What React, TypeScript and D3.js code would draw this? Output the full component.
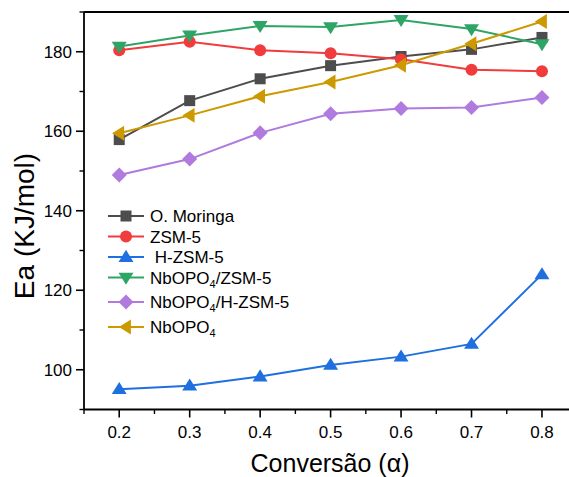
import React from "react";
import * as d3 from "d3";

const conversion = [0.2, 0.3, 0.4, 0.5, 0.6, 0.7, 0.8];
const moringa = [157.9, 167.7, 173.2, 176.5, 178.8, 180.6, 183.6];
const zsm5 = [180.4, 182.5, 180.4, 179.6, 178.1, 175.5, 175.1];
const hzsm5 = [95.1, 96.0, 98.3, 101.2, 103.3, 106.5, 124.0];
const nbZsm5 = [181.3, 184.1, 186.5, 186.2, 188.0, 185.7, 181.9];
const nbHzsm5 = [149.0, 153.0, 159.6, 164.4, 165.7, 166.0, 168.5];
const nbopo4 = [159.5, 164.0, 168.8, 172.4, 176.6, 182.0, 187.6];

const xTicks = [0.2, 0.3, 0.4, 0.5, 0.6, 0.7, 0.8];
const xMinorTicks = [0.15, 0.25, 0.35, 0.45, 0.55, 0.65, 0.75, 0.85];
const yTicks = [100, 120, 140, 160, 180];
const yMinorTicks = [90, 110, 130, 150, 170, 190];

type Series = { name: string; sub?: [string, string]; values: number[]; color: string; marker: string };
const series: Series[] = [
  { name: "O. Moringa", values: moringa, color: "#4d4d4d", marker: "square" },
  { name: "ZSM-5", values: zsm5, color: "#f03c3c", marker: "circle" },
  { name: " H-ZSM-5", values: hzsm5, color: "#1f6fe0", marker: "up" },
  { name: "NbOPO4/ZSM-5", sub: ["NbOPO", "/ZSM-5"], values: nbZsm5, color: "#2ea566", marker: "down" },
  { name: "NbOPO4/H-ZSM-5", sub: ["NbOPO", "/H-ZSM-5"], values: nbHzsm5, color: "#b07ade", marker: "diamond" },
  { name: "NbOPO4", sub: ["NbOPO", ""], values: nbopo4, color: "#cc9900", marker: "left" },
];

const legendY = [216, 236.5, 257, 277.5, 302, 327];

function Marker({ type, x, y, color }: { type: string; x: number; y: number; color: string }) {
  const r = 6.5;
  if (type === "square") return <rect x={x - 5.5} y={y - 5.5} width={11} height={11} fill={color} />;
  if (type === "circle") return <circle cx={x} cy={y} r={6} fill={color} />;
  let pts: [number, number][] = [];
  if (type === "up") pts = [[x, y - r * 1.1], [x + r * 1.15, y + r * 0.75], [x - r * 1.15, y + r * 0.75]];
  if (type === "down") pts = [[x, y + r * 1.1], [x + r * 1.15, y - r * 0.75], [x - r * 1.15, y - r * 0.75]];
  if (type === "left") pts = [[x - r * 1.1, y], [x + r * 0.75, y - r * 1.15], [x + r * 0.75, y + r * 1.15]];
  if (type === "diamond") pts = [[x, y - 7.5], [x + 7.5, y], [x, y + 7.5], [x - 7.5, y]];
  return <polygon points={pts.map((p) => p.join(",")).join(" ")} fill={color} />;
}

export default function App() {
  const W = 569, H = 477;
  const x = d3.scaleLinear().domain([0.15, 0.85]).range([84, 577.2]);
  const y = d3.scaleLinear().domain([90, 190]).range([409.5, 12]);
  const line = d3.line<number>().x((_, i) => x(conversion[i])).y((v) => y(v));
  const font = "Arial, 'Liberation Sans', sans-serif";
  const axisW = 1.8;

  return (
    <svg width={W} height={H} style={{ position: "absolute", left: 0, top: 0, background: "#fff" }} fontFamily={font}>
      <rect width={W} height={H} fill="#fff" />
      {series.map((s) => (
        <g key={s.name}>
          <path d={line(s.values) || ""} fill="none" stroke={s.color} strokeWidth={2} />
          {s.values.map((v, i) => (
            <Marker key={i} type={s.marker} x={x(conversion[i])} y={y(v)} color={s.color} />
          ))}
        </g>
      ))}
      {/* axes frame */}
      <line x1={x(0.15)} x2={W} y1={y(190)} y2={y(190)} stroke="#000" strokeWidth={axisW} />
      <line x1={x(0.15)} x2={W} y1={y(90)} y2={y(90)} stroke="#000" strokeWidth={axisW} />
      <line x1={x(0.15)} x2={x(0.15)} y1={y(190)} y2={y(90)} stroke="#000" strokeWidth={axisW} />
      {xTicks.map((t) => (
        <g key={t}>
          <line x1={x(t)} x2={x(t)} y1={y(90)} y2={y(90) + 8} stroke="#000" strokeWidth={1.6} />
          <text x={x(t)} y={438} textAnchor="middle" fontSize={17} fill="#000">{d3.format(".1f")(t)}</text>
        </g>
      ))}
      {xMinorTicks.map((t) => (
        <line key={t} x1={x(t)} x2={x(t)} y1={y(90)} y2={y(90) + 4.5} stroke="#000" strokeWidth={1.4} />
      ))}
      {yTicks.map((t) => (
        <g key={t}>
          <line x1={x(0.15) - 8} x2={x(0.15)} y1={y(t)} y2={y(t)} stroke="#000" strokeWidth={1.6} />
          <text x={72} y={y(t) + 6} textAnchor="end" fontSize={17} fill="#000">{t}</text>
        </g>
      ))}
      {yMinorTicks.map((t) => (
        <line key={t} x1={x(0.15) - 4.5} x2={x(0.15)} y1={y(t)} y2={y(t)} stroke="#000" strokeWidth={1.4} />
      ))}
      <text x={330} y={472} textAnchor="middle" fontSize={25} fill="#000">Conversão (α)</text>
      <text transform="translate(34,226) rotate(-90)" textAnchor="middle" fontSize={28} fill="#000">Ea (KJ/mol)</text>
      {/* legend */}
      {series.map((s, i) => (
        <g key={s.name}>
          <line x1={108} x2={144} y1={legendY[i]} y2={legendY[i]} stroke={s.color} strokeWidth={2} />
          <Marker type={s.marker} x={126} y={legendY[i]} color={s.color} />
          <text x={150} y={legendY[i] + 6} fontSize={17} fill="#000" style={{ whiteSpace: "pre" }}>
            {s.sub ? (
              <>
                {s.sub[0]}
                <tspan fontSize={11} dy={4}>4</tspan>
                <tspan dy={-4}>{s.sub[1]}</tspan>
              </>
            ) : (
              s.name
            )}
          </text>
        </g>
      ))}
    </svg>
  );
}
